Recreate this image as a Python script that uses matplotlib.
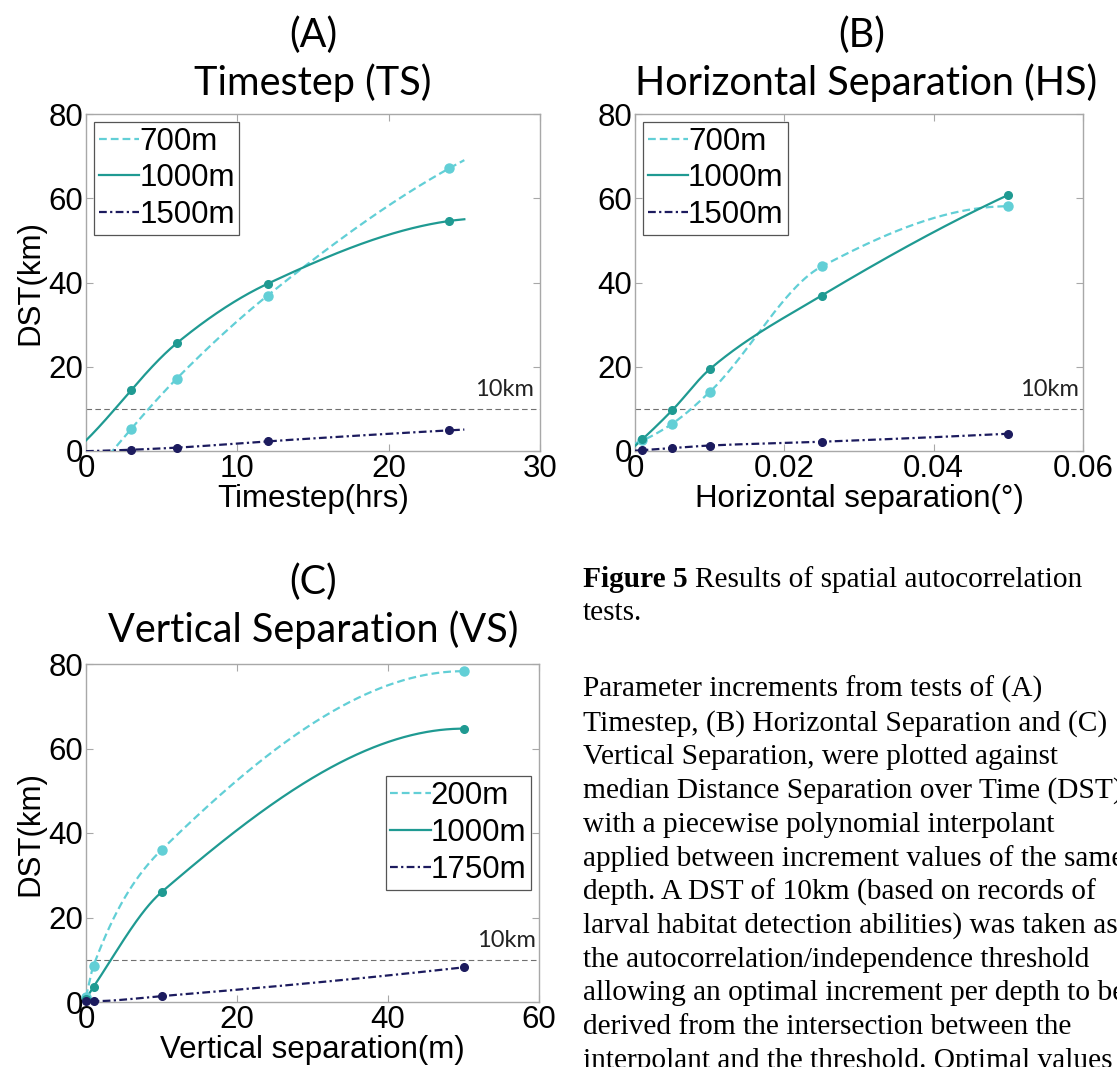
import numpy as np
import matplotlib
matplotlib.use("Agg")
import matplotlib.pyplot as plt

# ---------------- data ----------------
# (A) Timestep test
ts_x = [3, 6, 12, 24]
ts_700 = [5.3, 17.2, 36.9, 67.1]
ts_1000 = [14.5, 25.6, 39.7, 54.6]
ts_1500 = [0.3, 0.8, 2.3, 4.9]
ts_labels = ["700m", "1000m", "1500m"]

# (B) Horizontal separation test
hs_x = [0.001, 0.005, 0.01, 0.025, 0.05]
hs_700 = [2.5, 6.5, 14.0, 43.8, 58.1]
hs_1000 = [2.8, 9.7, 19.4, 36.9, 60.8]
hs_1500 = [0.2, 0.7, 1.3, 2.2, 4.1]
hs_labels = ["700m", "1000m", "1500m"]

# (C) Vertical separation test
vs_x = [0, 1, 10, 50]
vs_200 = [1.2, 8.6, 36.0, 78.3]
vs_1000 = [0.8, 3.6, 26.0, 64.7]
vs_1750 = [0.2, 0.2, 1.4, 8.2]
vs_labels = ["200m", "1000m", "1750m"]

threshold = 10

caption_lines = [
    "Parameter increments from tests of (A)",
    "Timestep, (B) Horizontal Separation and (C)",
    "Vertical Separation, were plotted against",
    "median Distance Separation over Time (DST),",
    "with a piecewise polynomial interpolant",
    "applied between increment values of the same",
    "depth. A DST of 10km (based on records of",
    "larval habitat detection abilities) was taken as",
    "the autocorrelation/independence threshold",
    "allowing an optimal increment per depth to be",
    "derived from the intersection between the",
    "interpolant and the threshold. Optimal values",
]

# ---------------- styling ----------------
C_LIGHT = "#62cfd6"
C_TEAL = "#1f9a92"
C_NAVY = "#1c1b5e"
SPINE = "#a8a8a8"
SANS = "Liberation Sans"
TITLE_FONT = "Lato"
FS = 22.5

plt.rcParams["font.family"] = SANS


def pchip(x, y, xq):
    """Shape-preserving piecewise cubic Hermite interpolant (with end extrapolation)."""
    x = np.asarray(x, float)
    y = np.asarray(y, float)
    xq = np.asarray(xq, float)
    h = np.diff(x)
    delta = np.diff(y) / h
    n = len(x)
    d = np.zeros(n)
    for k in range(1, n - 1):
        if delta[k - 1] * delta[k] > 0:
            w1 = 2 * h[k] + h[k - 1]
            w2 = h[k] + 2 * h[k - 1]
            d[k] = (w1 + w2) / (w1 / delta[k - 1] + w2 / delta[k])

    def end_slope(h0, h1, d0, d1):
        s = ((2 * h0 + h1) * d0 - h0 * d1) / (h0 + h1)
        if np.sign(s) != np.sign(d0):
            s = 0.0
        elif np.sign(d0) != np.sign(d1) and abs(s) > abs(3 * d0):
            s = 3 * d0
        return s

    d[0] = end_slope(h[0], h[1], delta[0], delta[1])
    d[-1] = end_slope(h[-1], h[-2], delta[-1], delta[-2])
    idx = np.clip(np.searchsorted(x, xq) - 1, 0, n - 2)
    t = (xq - x[idx]) / h[idx]
    hh = h[idx]
    h00 = 2 * t**3 - 3 * t**2 + 1
    h10 = t**3 - 2 * t**2 + t
    h01 = -2 * t**3 + 3 * t**2
    h11 = t**3 - t**2
    return h00 * y[idx] + h10 * hh * d[idx] + h01 * y[idx + 1] + h11 * hh * d[idx + 1]


def draw_series(ax, xs, ys, x0, x1, color, ls, label, ms):
    xq = np.linspace(x0, x1, 400)
    ax.plot(xq, pchip(xs, ys, xq), color=color, ls=ls, lw=1.6, label=label, zorder=3)
    ax.plot(xs, ys, "o", color=color, ms=ms, mec=color, zorder=4, clip_on=False)


def style_axes(ax, xlim, xticks, xticklabels, xlabel, ylabel, text_x):
    ax.set_xlim(*xlim)
    ax.set_ylim(0, 80)
    ax.set_xticks(xticks)
    ax.set_xticklabels(xticklabels)
    ax.set_yticks([0, 20, 40, 60, 80])
    for s in ax.spines.values():
        s.set_color(SPINE)
        s.set_linewidth(1.0)
    ax.tick_params(direction="in", length=5, width=0.8, color=SPINE,
                   top=True, right=True, labelsize=FS, pad=2, labelcolor="black")
    ax.set_xlabel(xlabel, fontsize=FS, labelpad=0)
    if ylabel:
        ax.set_ylabel(ylabel, fontsize=FS, labelpad=2)
    ax.axhline(threshold, color="#707070", lw=0.8, ls=(0, (5, 3)), zorder=2)
    ax.text(text_x, threshold + 2.0, "10km", ha="right", va="bottom",
            fontsize=17, family=TITLE_FONT, color="#222222")


def add_legend(ax, loc):
    leg = ax.legend(loc=loc, fontsize=FS, frameon=True, fancybox=False,
                    edgecolor="#555555", framealpha=1, handlelength=1.3,
                    handletextpad=0.0, labelspacing=0.22, borderpad=0.15,
                    borderaxespad=0.25)
    leg.get_frame().set_linewidth(0.9)
    return leg


W, H = 1117, 1067
fig = plt.figure(figsize=(W / 100, H / 100), dpi=100)


def px_axes(l, t, r, b):
    return fig.add_axes([l / W, 1 - b / H, (r - l) / W, (b - t) / H])


# (A)
axA = px_axes(86, 114, 540, 451)
draw_series(axA, ts_x, ts_700, 0, 25, C_LIGHT, (0, (3.5, 1.8)), ts_labels[0], 6.5)
draw_series(axA, ts_x, ts_1000, 0, 25, C_TEAL, "-", ts_labels[1], 5.5)
draw_series(axA, ts_x, ts_1500, 0, 25, C_NAVY, (0, (3.5, 1.5, 1, 1.5)), ts_labels[2], 5.5)
style_axes(axA, (0, 30), [0, 10, 20, 30], ["0", "10", "20", "30"],
           "Timestep(hrs)", "DST(km)", 29.6)
add_legend(axA, "upper left")

# (B)
axB = px_axes(635, 114, 1083, 451)
draw_series(axB, hs_x, hs_700, 0, 0.05, C_LIGHT, (0, (3.5, 1.8)), hs_labels[0], 6.5)
draw_series(axB, hs_x, hs_1000, 0, 0.05, C_TEAL, "-", hs_labels[1], 5.5)
draw_series(axB, hs_x, hs_1500, 0, 0.05, C_NAVY, (0, (3.5, 1.5, 1, 1.5)), hs_labels[2], 5.5)
style_axes(axB, (0, 0.06), [0, 0.02, 0.04, 0.06], ["0", "0.02", "0.04", "0.06"],
           "Horizontal separation(°)", None, 0.0595)
add_legend(axB, "upper left")

# (C)
axC = px_axes(86, 664, 539, 1002)
draw_series(axC, vs_x, vs_200, 0, 50, C_LIGHT, (0, (3.5, 1.8)), vs_labels[0], 6.5)
draw_series(axC, vs_x, vs_1000, 0, 50, C_TEAL, "-", vs_labels[1], 5.5)
draw_series(axC, vs_x, vs_1750, 0, 50, C_NAVY, (0, (3.5, 1.5, 1, 1.5)), vs_labels[2], 5.5)
style_axes(axC, (0, 60), [0, 20, 40, 60], ["0", "20", "40", "60"],
           "Vertical separation(m)", "DST(km)", 59.6)
add_legend(axC, "center right")

# panel titles
TS = 28.5
for cx, cy, txt in [(313, 35, "(A)"), (313, 83, "Timestep (TS)"),
                    (862, 35, "(B)"), (866, 83, "Horizontal Separation (HS)"),
                    (313, 582, "(C)"), (313, 630, "Vertical Separation (VS)")]:
    fig.text(cx / W, 1 - cy / H, txt, ha="center", va="center",
             fontsize=TS, family=TITLE_FONT, color="black")

# caption block
SERIF = "Liberation Serif"
CFS = 21.2
x0 = 583 / W
bold = fig.text(x0, 1 - 587 / H, "Figure 5 ", fontsize=CFS, family=SERIF,
                weight="bold", va="baseline", ha="left")
renderer = fig.canvas.get_renderer()
bw = bold.get_window_extent(renderer=renderer).width
fig.text(x0 + bw / W, 1 - 587 / H, "Results of spatial autocorrelation",
         fontsize=CFS, family=SERIF, va="baseline", ha="left")
fig.text(x0, 1 - 620 / H, "tests.", fontsize=CFS, family=SERIF,
         va="baseline", ha="left")
for i, line in enumerate(caption_lines):
    fig.text(x0, 1 - (697 + i * 33.7) / H, line, fontsize=CFS, family=SERIF,
             va="baseline", ha="left")

fig.savefig("out.png", dpi=100)
